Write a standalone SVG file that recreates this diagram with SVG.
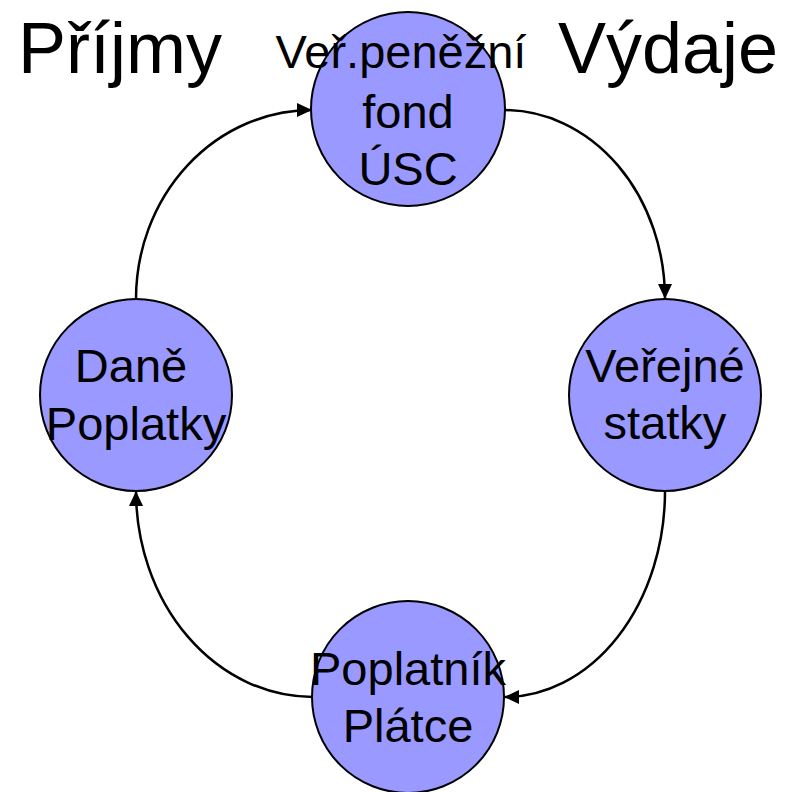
<svg xmlns="http://www.w3.org/2000/svg" width="790" height="792" viewBox="0 0 790 792">
<style>
.node{fill:#9999FF;stroke:#000;stroke-width:2}
.lbl{font-family:"Liberation Sans",Arial,sans-serif;font-size:47px;fill:#000;text-anchor:middle}
.title{font-family:"Liberation Sans",Arial,sans-serif;font-size:72px;fill:#000}
.conn{fill:none;stroke:#000;stroke-width:2.5}
</style>
<defs>
<marker id="arr" markerUnits="userSpaceOnUse" markerWidth="16" markerHeight="14" refX="15" refY="7" orient="auto">
<polygon points="0,0 15,7 0,14" fill="#000"/>
</marker>
</defs>
<rect width="790" height="792" fill="#fff"/>
<g id="connectors">
<path class="conn" d="M136,299 A176,189 0 0 1 312,110" marker-end="url(#arr)"/>
<path class="conn" d="M504,110 A161,189 0 0 1 665,299" marker-end="url(#arr)"/>
<path class="conn" d="M665,491 A161,206 0 0 1 504,697" marker-end="url(#arr)"/>
<path class="conn" d="M313,697 A177,206 0 0 1 136,491" marker-end="url(#arr)"/>
</g>
<g id="fond">
<circle class="node" cx="408" cy="109" r="97"/>
<text class="lbl" x="401" y="68">Veř.peněžní</text>
<text class="lbl" x="408" y="128">fond</text>
<text class="lbl" x="408" y="185">ÚSC</text>
</g>
<g id="statky">
<circle class="node" cx="665" cy="395" r="96"/>
<text class="lbl" x="665" y="382">Veřejné</text>
<text class="lbl" x="665" y="439">statky</text>
</g>
<g id="poplatnik">
<circle class="node" cx="408" cy="697" r="96"/>
<text class="lbl" x="408" y="685">Poplatník</text>
<text class="lbl" x="408" y="742">Plátce</text>
</g>
<g id="dane">
<circle class="node" cx="136" cy="395" r="96"/>
<text class="lbl" x="131" y="382">Daně</text>
<text class="lbl" x="136" y="440">Poplatky</text>
</g>
<g id="titles">
<text class="title" x="18" y="73">Příjmy</text>
<text class="title" x="558" y="73">Výdaje</text>
</g>
</svg>
